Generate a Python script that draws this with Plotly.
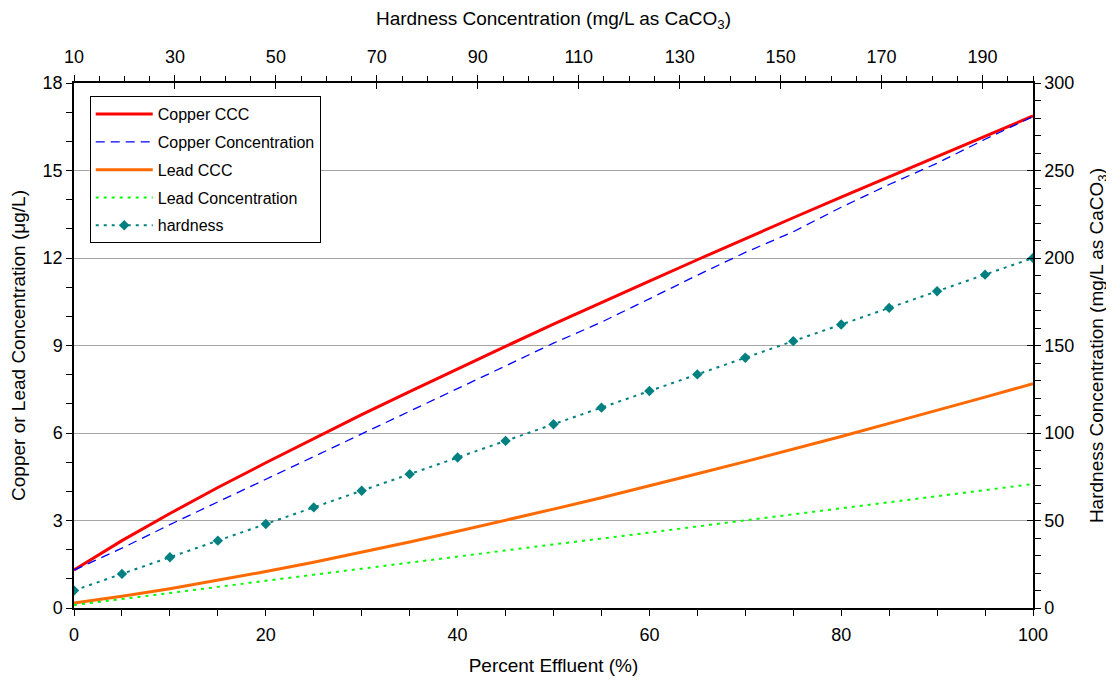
import plotly.graph_objects as go

# ---- data ----
pct_effluent = [0, 5, 10, 15, 20, 25, 30, 35, 40, 45, 50, 55, 60, 65, 70, 75, 80, 85, 90, 95, 100]
copper_ccc = [1.30, 2.31, 3.24, 4.13, 4.98, 5.81, 6.63, 7.42, 8.20, 8.97, 9.73, 10.48,
              11.21, 11.94, 12.67, 13.38, 14.09, 14.79, 15.49, 16.18, 16.87]
copper_conc = [1.30, 2.05, 2.86, 3.63, 4.41, 5.19, 5.97, 6.74, 7.52, 8.30, 9.08, 9.80,
               10.60, 11.41, 12.19, 12.90, 13.74, 14.52, 15.25, 16.07, 16.85]
lead_ccc = [0.17, 0.40, 0.66, 0.95, 1.25, 1.57, 1.91, 2.26, 2.63, 3.00, 3.39, 3.78,
            4.18, 4.60, 5.02, 5.44, 5.88, 6.33, 6.77, 7.23, 7.69]
lead_conc = [0.10, 0.31, 0.52, 0.72, 0.93, 1.14, 1.35, 1.55, 1.76, 1.97, 2.18, 2.38,
             2.59, 2.80, 3.01, 3.21, 3.42, 3.63, 3.84, 4.04, 4.25]
hardness = [10, 19.5, 29, 38.5, 48, 57.5, 67, 76.5, 86, 95.5, 105, 114.5, 124, 133.5,
            143, 152.5, 162, 171.5, 181, 190.5, 200]
bottom_tick_vals = [0, 20, 40, 60, 80, 100]
top_tick_vals = [10, 30, 50, 70, 90, 110, 130, 150, 170, 190]
left_tick_vals = [0, 3, 6, 9, 12, 15, 18]
right_tick_vals = [0, 50, 100, 150, 200, 250, 300]

FONT = "Liberation Sans, Arial, sans-serif"
TICK_SIZE = 18
TITLE_SIZE = 19

fig = go.Figure()
fig.add_trace(go.Scatter(x=pct_effluent, y=copper_ccc, name="Copper CCC", mode="lines",
                         line=dict(color="#FF0000", width=3), legendgroup="a"))
fig.add_trace(go.Scatter(x=pct_effluent, y=copper_conc, name="Copper Concentration", mode="lines",
                         line=dict(color="#0000FF", width=1.3, dash="9px,6px"), legendgroup="b"))
fig.add_trace(go.Scatter(x=pct_effluent, y=lead_ccc, name="Lead CCC", mode="lines",
                         line=dict(color="#FF6A00", width=3), legendgroup="c"))
fig.add_trace(go.Scatter(x=pct_effluent, y=lead_conc, name="Lead Concentration", mode="lines",
                         line=dict(color="#00FF00", width=2, dash="3px,5px"), legendgroup="d"))
fig.add_trace(go.Scatter(x=pct_effluent, y=hardness, name="hardness", mode="lines+markers",
                         yaxis="y2",
                         line=dict(color="#008080", width=2, dash="3px,5px"),
                         marker=dict(symbol="diamond", size=8, color="#008080"),
                         legendgroup="e"))
# invisible carriers so that the top hardness axis and the crossing-tick axes get drawn
fig.add_trace(go.Scatter(x=hardness, y=hardness, xaxis="x2", yaxis="y2", mode="lines",
                         line=dict(width=0), opacity=0, showlegend=False, hoverinfo="skip"))
fig.add_trace(go.Scatter(x=hardness, y=hardness, xaxis="x3", yaxis="y3", mode="lines",
                         line=dict(width=0), opacity=0, showlegend=False, hoverinfo="skip"))

axis_common = dict(showline=True, linecolor="black", linewidth=1.5,
                   tickfont=dict(family=FONT, size=TICK_SIZE, color="black"),
                   title_font=dict(family=FONT, size=TITLE_SIZE, color="black"),
                   zeroline=False, ticklen=6, tickcolor="black", tickwidth=1,
                   automargin=False)

fig.update_layout(
    width=1106, height=675,
    margin=dict(l=66, r=81, t=75, b=75),
    plot_bgcolor="white", paper_bgcolor="white",
    font=dict(family=FONT, size=16, color="black"),
    showlegend=True,
    legend=dict(x=0.0164, y=0.975, xanchor="left", yanchor="top",
                bordercolor="black", borderwidth=1, bgcolor="white",
                font=dict(family=FONT, size=16, color="black"),
                itemwidth=57, traceorder="grouped", tracegroupgap=4),
    xaxis=dict(range=[0, 100], tickvals=bottom_tick_vals, ticks="outside",
               minor=dict(dtick=5, tick0=0, ticks="outside", ticklen=6, tickcolor="black"),
               ticklabelstandoff=4,
               title=dict(text="Percent Effluent (%)", standoff=14),
               showgrid=False, mirror=False, **axis_common),
    xaxis2=dict(range=[10, 200], overlaying="x", side="top", anchor="y",
                tickvals=top_tick_vals, ticks="outside",
                minor=dict(dtick=5, tick0=10, ticks="outside", ticklen=5, tickcolor="black"),
                ticklabelstandoff=5,
                title=dict(text="Hardness Concentration (mg/L as CaCO<sub>3</sub>)", standoff=16),
                showgrid=False, **axis_common),
    xaxis3=dict(range=[10, 200], overlaying="x", side="top", anchor="y",
                tickvals=top_tick_vals, ticks="inside", showticklabels=False,
                showline=False, showgrid=False, ticklen=6, tickcolor="black", zeroline=False),
    yaxis=dict(range=[0, 18], tickvals=left_tick_vals, ticks="outside",
               minor=dict(dtick=1, tick0=0, ticks="outside", ticklen=6, tickcolor="black"),
               showgrid=True, gridcolor="#A6A6A6", gridwidth=1,
               title=dict(text="Copper or Lead Concentration (μg/L)", standoff=14),
               **axis_common),
    yaxis2=dict(range=[0, 300], overlaying="y", side="right", anchor="x",
                tickvals=right_tick_vals, ticks="outside",
                minor=dict(dtick=10, tick0=0, ticks="outside", ticklen=6, tickcolor="black"),
                showgrid=False,
                title=dict(text="Hardness Concentration (mg/L as CaCO<sub>3</sub>)", standoff=16),
                **axis_common),
    yaxis3=dict(range=[0, 300], overlaying="y", side="right", anchor="x",
                tickvals=right_tick_vals, ticks="inside",
                showticklabels=False, showline=False, showgrid=False,
                ticklen=6, tickcolor="black", zeroline=False),
)

fig.write_html("out.html")
